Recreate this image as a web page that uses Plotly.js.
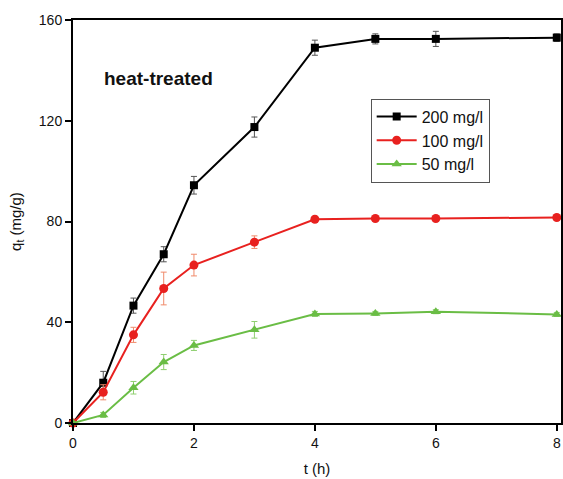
<!DOCTYPE html>
<html><head><meta charset="utf-8">
<script src="https://cdn.plot.ly/plotly-3.0.1.min.js"></script>
<style>html,body{margin:0;padding:0;background:#fff}#chart{width:563px;height:479px}</style>
</head><body><div id="chart"></div>
<script>
const time = [0, 0.5, 1, 1.5, 2, 3, 4, 5, 6, 8];
const q200 = [0, 16, 46.6, 67, 94.4, 117.5, 149, 152.5, 152.5, 153];
const err200 = [0, 4.5, 3, 3, 3.5, 4, 3, 2, 3, 1.5];
const q100 = [0, 12.2, 35, 53.4, 62.7, 71.8, 80.9, 81.2, 81.2, 81.6];
const err100 = [0, 3, 3, 6.5, 4.3, 2.5, 1, 0.8, 0.8, 0.8];
const q50 = [0, 3.2, 14, 24.2, 30.8, 37, 43.3, 43.5, 44.2, 43.1];
const err50 = [0, 1, 2.5, 3, 2, 3.3, 1, 0.8, 0.8, 0.8];
const names = ['200 mg/l', '100 mg/l', '50 mg/l'];

function tr(y, e, name, color, ecolor, symbol, size) {
  return {
    x: time, y: y, name: name, type: 'scatter', mode: 'lines+markers',
    line: {color: color, width: 2},
    marker: {color: color, symbol: symbol, size: size},
    error_y: {type: 'data', array: e, visible: true, color: ecolor, thickness: 1, width: 3},
    cliponaxis: false
  };
}
const data = [
  tr(q200, err200, names[0], '#000000', '#555555', 'square', 8),
  tr(q100, err100, names[1], '#e8211f', '#f08a6a', 'circle', 9),
  tr(q50, err50, names[2], '#6abd45', '#8fcf70', 'triangle-up', 9)
];
const layout = {
  width: 563, height: 479,
  margin: {l: 73, r: 2, t: 20, b: 56},
  paper_bgcolor: '#fff', plot_bgcolor: '#fff',
  font: {family: 'Liberation Sans, Arial, sans-serif', size: 14, color: '#111'},
  xaxis: {
    range: [0, 8.07], tickvals: [0, 2, 4, 6, 8], showgrid: false, zeroline: false,
    showline: true, linecolor: '#000', linewidth: 2, mirror: true,
    ticks: 'outside', ticklen: 6, tickwidth: 2, tickcolor: '#000',
    title: {text: 't (h)', font: {size: 15}, standoff: 14}
  },
  yaxis: {
    range: [0, 160], tickvals: [0, 40, 80, 120, 160], showgrid: false, zeroline: false,
    showline: true, linecolor: '#000', linewidth: 2, mirror: true,
    ticks: 'outside', ticklen: 6, tickwidth: 2, tickcolor: '#000',
    title: {text: 'q<sub>t</sub> (mg/g)', font: {size: 15}, standoff: 14}
  },
  showlegend: true,
  legend: {
    x: 0.61, y: 0.805, xanchor: 'left', yanchor: 'top',
    bgcolor: '#fff', bordercolor: '#555', borderwidth: 1,
    font: {size: 16, color: '#111'}, tracegroupgap: 0, itemwidth: 40
  },
  annotations: [{
    text: '<b>heat-treated</b>', x: 0.06, y: 0.855, xref: 'paper', yref: 'paper',
    xanchor: 'left', yanchor: 'middle', showarrow: false,
    font: {size: 19, color: '#111', family: 'Liberation Sans, Arial, sans-serif'}
  }]
};
Plotly.newPlot('chart', data, layout, {displayModeBar: false, staticPlot: true});
</script></body></html>
